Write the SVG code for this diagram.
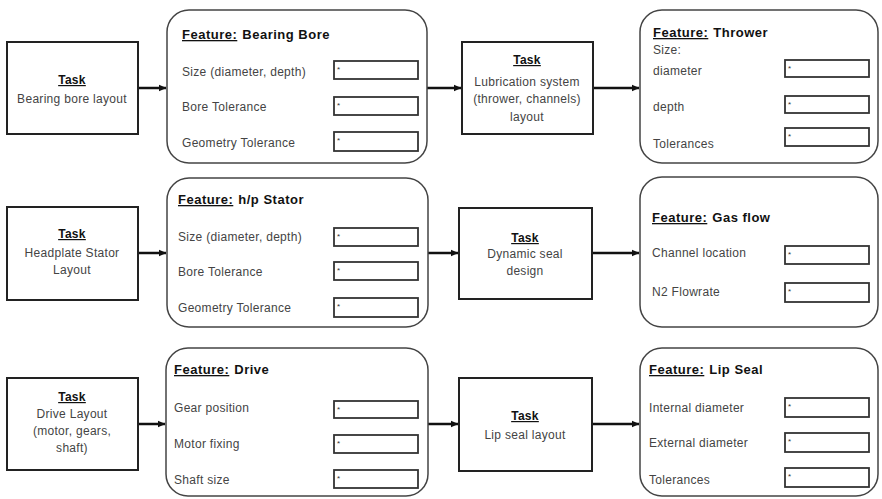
<svg xmlns="http://www.w3.org/2000/svg" width="882" height="499" viewBox="0 0 882 499">
<defs>
<marker id="ah" markerWidth="8" markerHeight="8" refX="7" refY="4" orient="auto" markerUnits="userSpaceOnUse">
<path d="M0,0.8 L7.5,4 L0,7.2 Z" fill="#111"/>
</marker>
<style>
text{font-family:"Liberation Sans",Arial,sans-serif;font-size:12px;letter-spacing:0.3px;fill:#444}
.task{fill:#fff;stroke:#222;stroke-width:2}
.feat{fill:#fff;stroke:#444;stroke-width:1.5}
.inp{fill:#fff;stroke:#333;stroke-width:1.8}
.t{text-anchor:middle}
.h{font-weight:bold;fill:#111}
.ft{font-weight:bold;fill:#111;font-size:13px;letter-spacing:0.5px}
.u{text-decoration:underline}
.st{font-size:8px;fill:#333;letter-spacing:0}
.con line{stroke:#111;stroke-width:2.5;marker-end:url(#ah)}
</style>
</defs>
<rect width="882" height="499" fill="#fff"/>

<g class="con">
<line x1="138" y1="88" x2="166" y2="88"/>
<line x1="427" y1="88" x2="461" y2="88"/>
<line x1="593" y1="88" x2="639" y2="88"/>
<line x1="138" y1="253" x2="166" y2="253"/>
<line x1="428" y1="253" x2="458" y2="253"/>
<line x1="592" y1="253" x2="639" y2="253"/>
<line x1="138" y1="424" x2="165" y2="424"/>
<line x1="428" y1="424" x2="458" y2="424"/>
<line x1="592" y1="424" x2="639" y2="424"/>
</g>

<g id="task1">
<rect class="task" x="7" y="42" width="131" height="92"/>
<text class="t h u" x="72" y="84">Task</text>
<text class="t" x="72" y="103">Bearing bore layout</text>
</g>

<g id="feat1">
<rect class="feat" x="167" y="10" width="260" height="153" rx="22"/>
<text class="ft" x="182" y="39"><tspan class="u">Feature:</tspan><tspan dx="5">Bearing Bore</tspan></text>
<text x="182" y="76">Size (diameter, depth)</text>
<text x="182" y="111">Bore Tolerance</text>
<text x="182" y="147">Geometry Tolerance</text>
<rect class="inp" x="334" y="61" width="84" height="18"/><text class="st" x="337" y="72">*</text>
<rect class="inp" x="334" y="97" width="84" height="18"/><text class="st" x="337" y="108">*</text>
<rect class="inp" x="334" y="132" width="84" height="19"/><text class="st" x="337" y="143">*</text>
</g>

<g id="task2">
<rect class="task" x="462" y="42" width="131" height="92"/>
<text class="t h u" x="527" y="64">Task</text>
<text class="t" x="527" y="86">Lubrication system</text>
<text class="t" x="527" y="103">(thrower, channels)</text>
<text class="t" x="527" y="121">layout</text>
</g>

<g id="feat2">
<rect class="feat" x="640" y="10" width="238" height="153" rx="22"/>
<text class="ft" x="653" y="37"><tspan class="u">Feature:</tspan><tspan dx="5">Thrower</tspan></text>
<text x="653" y="54">Size:</text>
<text x="653" y="75">diameter</text>
<text x="653" y="111">depth</text>
<text x="653" y="148">Tolerances</text>
<rect class="inp" x="785" y="60" width="84" height="17"/><text class="st" x="788" y="71">*</text>
<rect class="inp" x="785" y="96" width="84" height="17"/><text class="st" x="788" y="107">*</text>
<rect class="inp" x="785" y="128" width="84" height="18"/><text class="st" x="788" y="139">*</text>
</g>

<g id="task3">
<rect class="task" x="7" y="207" width="131" height="93"/>
<text class="t h u" x="72" y="238">Task</text>
<text class="t" x="72" y="257">Headplate Stator</text>
<text class="t" x="72" y="274">Layout</text>
</g>

<g id="feat3">
<rect class="feat" x="167" y="178" width="261" height="149" rx="22"/>
<text class="ft" x="178" y="204"><tspan class="u">Feature:</tspan><tspan dx="5">h/p Stator</tspan></text>
<text x="178" y="241">Size (diameter, depth)</text>
<text x="178" y="276">Bore Tolerance</text>
<text x="178" y="312">Geometry Tolerance</text>
<rect class="inp" x="334" y="228" width="84" height="18"/><text class="st" x="337" y="239">*</text>
<rect class="inp" x="334" y="262" width="84" height="18"/><text class="st" x="337" y="273">*</text>
<rect class="inp" x="334" y="298" width="84" height="19"/><text class="st" x="337" y="309">*</text>
</g>

<g id="task4">
<rect class="task" x="459" y="208" width="133" height="91"/>
<text class="t h u" x="525" y="242">Task</text>
<text class="t" x="525" y="258">Dynamic seal</text>
<text class="t" x="525" y="275">design</text>
</g>

<g id="feat4">
<rect class="feat" x="640" y="177" width="238" height="150" rx="22"/>
<text class="ft" x="652" y="222"><tspan class="u">Feature:</tspan><tspan dx="5">Gas flow</tspan></text>
<text x="652" y="257">Channel location</text>
<text x="652" y="296">N2 Flowrate</text>
<rect class="inp" x="785" y="246" width="84" height="18"/><text class="st" x="788" y="257">*</text>
<rect class="inp" x="785" y="283" width="84" height="19"/><text class="st" x="788" y="294">*</text>
</g>

<g id="task5">
<rect class="task" x="7" y="378" width="131" height="92"/>
<text class="t h u" x="72" y="401">Task</text>
<text class="t" x="72" y="418">Drive Layout</text>
<text class="t" x="72" y="435">(motor, gears,</text>
<text class="t" x="72" y="452">shaft)</text>
</g>

<g id="feat5">
<rect class="feat" x="166" y="348" width="262" height="148" rx="22"/>
<text class="ft" x="174" y="374"><tspan class="u">Feature:</tspan><tspan dx="5">Drive</tspan></text>
<text x="174" y="412">Gear position</text>
<text x="174" y="448">Motor fixing</text>
<text x="174" y="484">Shaft size</text>
<rect class="inp" x="334" y="401" width="84" height="17"/><text class="st" x="337" y="412">*</text>
<rect class="inp" x="334" y="435" width="84" height="18"/><text class="st" x="337" y="446">*</text>
<rect class="inp" x="334" y="470" width="84" height="18"/><text class="st" x="337" y="481">*</text>
</g>

<g id="task6">
<rect class="task" x="459" y="378" width="133" height="93"/>
<text class="t h u" x="525" y="420">Task</text>
<text class="t" x="525" y="439">Lip seal layout</text>
</g>

<g id="feat6">
<rect class="feat" x="640" y="348" width="238" height="148" rx="22"/>
<text class="ft" x="649" y="374"><tspan class="u">Feature:</tspan><tspan dx="5">Lip Seal</tspan></text>
<text x="649" y="412">Internal diameter</text>
<text x="649" y="447">External diameter</text>
<text x="649" y="484">Tolerances</text>
<rect class="inp" x="785" y="398" width="84" height="19"/><text class="st" x="788" y="409">*</text>
<rect class="inp" x="785" y="433" width="84" height="19"/><text class="st" x="788" y="444">*</text>
<rect class="inp" x="785" y="468" width="84" height="19"/><text class="st" x="788" y="479">*</text>
</g>
</svg>
